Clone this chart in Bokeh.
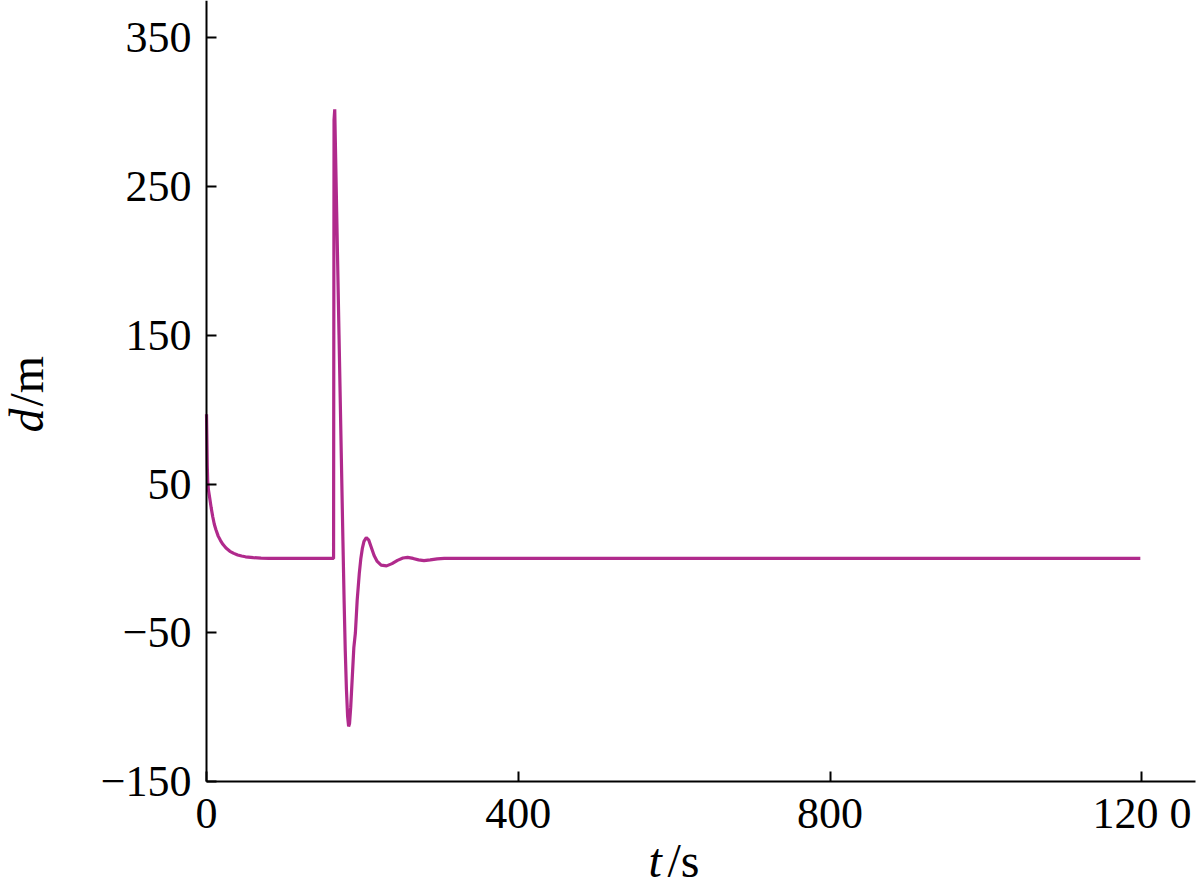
import math
from bokeh.plotting import figure
from bokeh.models import FixedTicker, Label, Range1d
from bokeh.embed import file_html
from bokeh.resources import INLINE

# ---- data ----
t_s = [0, 0.5, 1, 1.5, 2.5, 4, 6, 8, 10, 12, 15, 18, 21, 25, 30, 35, 40, 45, 50,
       60, 70, 80, 100, 163, 163.6, 164.5, 167, 170, 173, 175, 176.5, 178, 179.5,
       181, 182.3, 183.5, 185, 187, 189, 191, 193.3, 196, 198, 200, 202, 205,
       208, 211, 215, 219, 224, 231, 238, 245, 252, 258, 265, 272, 279, 287,
       296, 305, 400, 600, 800, 1000, 1198]
d_m = [97, 80, 62, 52, 46, 41, 34, 28, 23, 19.5, 15, 12, 9.5, 7, 4.8, 3.4, 2.3,
       1.6, 1.1, 0.5, 0.2, 0.05, 0, 0, 295, 302, 233, 150, 67, 12, -28, -62,
       -88, -106, -113, -111, -100, -80, -60, -50, -28, -10, 0, 7, 11.5, 14,
       12.5, 8, 2, -2, -4.5, -5, -3.5, -1.3, 0.3, 0.7, 0, -1, -1.5, -1, -0.3,
       0, 0, 0, 0, 0, 0]

x_ticks = [0, 400, 800, 1200]
x_tick_labels = {0: "0", 400: "400", 800: "800", 1200: "120 0"}
y_ticks = [-150, -50, 50, 150, 250, 350]
y_tick_labels = {-150: "\u2212150", -50: "\u221250", 50: "50", 150: "150",
                 250: "250", 350: "350"}

SERIF = "Liberation Serif"
LINE_COLOR = "#B02A8C"

# frame covers the whole canvas; axes are drawn at fixed data locations
X0, X1 = -264.3, 1275.2
Y0, Y1 = -221.3, 375.2

p = figure(width=1200, height=887, output_backend="svg", toolbar_location=None,
           x_range=Range1d(X0, X1), y_range=Range1d(Y0, Y1),
           min_border_left=0, min_border_right=0, min_border_top=0,
           min_border_bottom=0)
p.outline_line_color = None
p.xgrid.visible = False
p.ygrid.visible = False
p.background_fill_color = "white"
p.border_fill_color = "white"

p.line(t_s, d_m, line_color=LINE_COLOR, line_width=3.2)

for ax in (p.xaxis[0], p.yaxis[0]):
    ax.axis_line_width = 2
    ax.axis_line_color = "black"
    ax.major_tick_in = 10
    ax.major_tick_out = 0
    ax.major_tick_line_width = 2
    ax.major_tick_line_color = "black"
    ax.minor_tick_line_color = None
    ax.major_label_text_font = SERIF
    ax.major_label_text_font_size = "44px"
    ax.major_label_text_color = "black"

p.xaxis.ticker = FixedTicker(ticks=x_ticks)
p.xaxis.major_label_overrides = x_tick_labels
p.xaxis.major_label_standoff = 8
p.xaxis.fixed_location = y_ticks[0]
p.xaxis.bounds = (0, 1268.8)

p.yaxis.ticker = FixedTicker(ticks=y_ticks)
p.yaxis.major_label_overrides = y_tick_labels
p.yaxis.major_label_standoff = 15
p.yaxis.fixed_location = 0
p.yaxis.bounds = (y_ticks[0], Y1)

# axis titles (italic symbol, upright unit)
title_size = "48px"
common = dict(x_units="screen", y_units="screen", text_font=SERIF,
              text_font_size=title_size, text_color="black",
              text_align="left", text_baseline="alphabetic")
p.add_layout(Label(x=648, y=27, text="t", text_font_style="italic", **common))
p.add_layout(Label(x=667, y=27, text="/s", **common))
p.add_layout(Label(x=26, y=455, text="d", text_font_style="italic",
                   angle=math.pi / 2, **common))
p.add_layout(Label(x=26, y=481, text="/m", angle=math.pi / 2, **common))

open("out.html", "w").write(file_html(p, INLINE))
